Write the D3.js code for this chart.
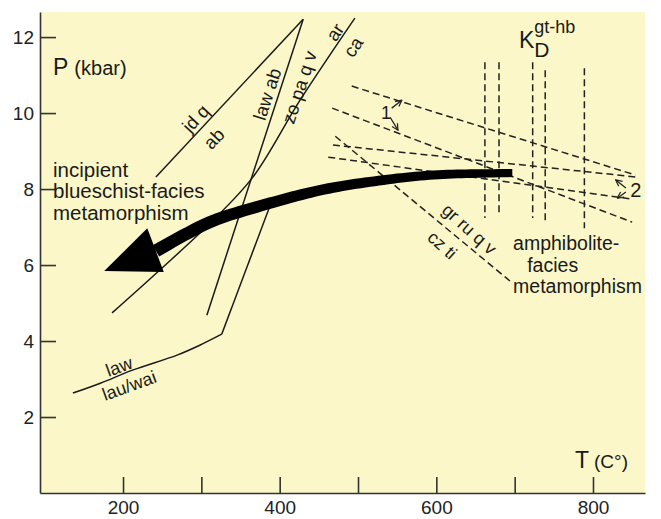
<!DOCTYPE html>
<html>
<head>
<meta charset="utf-8">
<script src="https://cdn.jsdelivr.net/npm/d3@7"></script>
<style>
  body { margin: 0; background: #fff; }
  svg { display: block; font-family: "Liberation Sans", Arial, sans-serif; }
  .axis path, .axis line { stroke: #333; stroke-width: 1.6; }
  .axis text { font-size: 19px; fill: #222; }
  .rx { fill: none; stroke: #1a1a1a; stroke-width: 1.5; }
  .dash { fill: none; stroke: #222; stroke-width: 1.5; stroke-dasharray: 7,4; }
  .lbl { fill: #1a1a1a; }
</style>
</head>
<body>
<div id="chart"></div>
<script>
// axis ticks
const xTicks = [200, 300, 400, 500, 600, 700, 800];
const xLabels = [200, 400, 600, 800];
const yTicks = [2, 4, 6, 8, 10, 12];

// reaction lines, [T (°C), P (kbar)]
const jdqLine = [[242, 8.32], [430, 12.47]];
const lawLine = [[307, 4.68], [430, 12.47]];
const arcaLine = [[186, 4.74], [247, 5.87], [311, 7.10], [366, 8.32], [426, 10.34], [496, 12.5]];
const lauLine = [[136, 2.63], [171, 2.89], [213, 3.24], [269, 3.63], [298, 3.89], [326, 4.18]];
const lauUpper = [[326, 4.18], [388, 7.58]];

// KD(gt-hb) isopleths: T, Ptop, Pbottom
const kdT = [662, 680, 723, 739, 789];
const kdTop = [11.34, 11.34, 11.34, 11.13, 11.18];
const kdBottom = [7.24, 7.39, 7.24, 7.13, 6.97];

// sloped dashed lines
const dashA = [[492, 10.71], [854, 8.37]];
const dashB = [[467, 10.13], [850, 7.13]];
const dashC = [[468, 9.16], [854, 8.32]];
const dashD = [[462, 8.84], [848, 7.74]];
const grruLine = [[471, 9.39], [694, 5.58]];

// P-T path arrow
const pathPts = [[697, 8.42], [596, 8.37], [512, 8.18], [452, 7.97], [371, 7.53], [311, 7.13], [242, 6.37]];
const arrowHead = [[176, 5.84], [231, 6.97], [252, 5.82]];

const W = 661, H = 519;
const margin = { top: 12, right: 16, bottom: 26, left: 40 };

const svg = d3.select("#chart").append("svg").attr("width", W).attr("height", H);

const x = d3.scaleLinear().domain([94, 866.4]).range([margin.left, W - margin.right]);
const y = d3.scaleLinear().domain([0, 12.66]).range([H - margin.bottom, margin.top]);

svg.append("rect")
  .attr("x", margin.left).attr("y", margin.top)
  .attr("width", W - margin.left - margin.right)
  .attr("height", H - margin.top - margin.bottom)
  .attr("fill", "#fbf7c9");

// axes, ticks point inward
svg.append("g").attr("class", "axis")
  .attr("transform", `translate(0,${H - margin.bottom})`)
  .call(d3.axisBottom(x).tickValues(xTicks).tickSizeInner(-16).tickSizeOuter(0).tickPadding(8)
    .tickFormat(d => xLabels.includes(d) ? d : ""));

svg.append("g").attr("class", "axis")
  .attr("transform", `translate(${margin.left},0)`)
  .call(d3.axisLeft(y).tickValues(yTicks).tickSizeInner(-16).tickSizeOuter(0).tickPadding(6));

const line = d3.line().x(d => x(d[0])).y(d => y(d[1]));
const curve = d3.line().x(d => x(d[0])).y(d => y(d[1])).curve(d3.curveCatmullRom);

[jdqLine, lawLine, lauUpper].forEach(l => svg.append("path").attr("class", "rx").attr("d", line(l)));
[arcaLine, lauLine].forEach(l => svg.append("path").attr("class", "rx").attr("d", curve(l)));

// dashed lines
kdT.forEach((t, i) => {
  svg.append("path").attr("class", "dash")
    .attr("d", line([[t, kdTop[i]], [t, kdBottom[i]]]));
});
[dashA, dashB, dashC, dashD, grruLine].forEach(l => svg.append("path").attr("class", "dash").attr("d", line(l)));

// P-T path: shaft widens toward the head
const guide = svg.append("path").attr("d", curve(pathPts)).attr("fill", "none");
const gNode = guide.node(), len = gNode.getTotalLength();
const n = 80, leftSide = [], rightSide = [];
for (let i = 0; i <= n; i++) {
  const s = len * i / n;
  const p = gNode.getPointAtLength(s);
  const a = gNode.getPointAtLength(Math.max(0, s - 1)), b = gNode.getPointAtLength(Math.min(len, s + 1));
  const dx = b.x - a.x, dy = b.y - a.y, m = Math.hypot(dx, dy) || 1;
  const hw = (8 + 5 * i / n) / 2;
  leftSide.push([p.x - dy / m * hw, p.y + dx / m * hw]);
  rightSide.push([p.x + dy / m * hw, p.y - dx / m * hw]);
}
guide.remove();
svg.append("path")
  .attr("d", d3.line()(leftSide.concat(rightSide.reverse())) + "Z")
  .attr("fill", "#000");
svg.append("polygon")
  .attr("points", arrowHead.map(d => [x(d[0]), y(d[1])].join(",")).join(" "))
  .attr("fill", "#000");

// small arrows for 1 and 2
svg.append("defs").append("marker")
  .attr("id", "tip").attr("viewBox", "0 0 10 10").attr("refX", 9).attr("refY", 5)
  .attr("markerWidth", 6).attr("markerHeight", 6).attr("orient", "auto")
  .append("path").attr("d", "M1,1 L9,5 L1,9").attr("fill", "none").attr("stroke", "#222").attr("stroke-width", 1.6);

const smallArrows = [
  [[543, 10.13], [556, 10.34]],
  [[541, 9.89], [551, 9.55]],
  [[842, 8.03], [829, 8.24]],
  [[842, 7.92], [831, 7.76]]
];
smallArrows.forEach(a => svg.append("path").attr("d", line(a))
  .attr("stroke", "#222").attr("stroke-width", 1.3).attr("fill", "none").attr("marker-end", "url(#tip)"));

// text
const txt = (t, T, P, size, opts = {}) => {
  const el = svg.append("text").attr("class", "lbl")
    .attr("x", x(T)).attr("y", y(P)).style("font-size", size + "px").text(t);
  if (opts.rot !== undefined) {
    el.attr("text-anchor", "middle").attr("dominant-baseline", "central")
      .attr("transform", `rotate(${opts.rot},${x(T)},${y(P)})`);
  }
  return el;
};

const pLab = txt("P", 110.6, 11.0, 23);
pLab.append("tspan").attr("dx", 6).style("font-size", "20px").text("(kbar)");
const tLab = txt("T", 777, 0.66, 23);
tLab.append("tspan").attr("dx", 5).style("font-size", "19px").text("(C°)");

const kLab = txt("K", 705.5, 11.71, 23);
kLab.append("tspan").attr("dy", 9).style("font-size", "21px").text("D");
txt("gt-hb", 725, 12.1, 18);

txt("incipient", 110.6, 8.32, 20.5);
txt("blueschist-facies", 110.6, 7.76, 20.5);
txt("metamorphism", 110.6, 7.18, 20.5);

txt("amphibolite-", 698, 6.39, 19.5);
txt("facies", 716, 5.82, 19.5);
txt("metamorphism", 698, 5.26, 19.5);

txt("jd q", 292.6, 9.86, 18.5, { rot: -47 });
txt("ab", 316, 9.33, 18.5, { rot: -47 });
txt("law ab", 384, 10.5, 18.5, { rot: -72 });
txt("zo pa q v", 425, 10.68, 18.5, { rot: -72 });
txt("ar", 470.7, 12.13, 18.5, { rot: -56 });
txt("ca", 493.7, 11.74, 18.5, { rot: -56 });
txt("law", 195, 3.32, 18, { rot: -20 });
txt("lau/wai", 208, 2.82, 18, { rot: -20 });
txt("gr ru q v", 642, 6.94, 18, { rot: 42 });
txt("cz ti", 607.5, 6.52, 18, { rot: 42 });

txt("1", 529.4, 9.84, 18);
txt("2", 847.5, 7.79, 20);
</script>
</body>
</html>
